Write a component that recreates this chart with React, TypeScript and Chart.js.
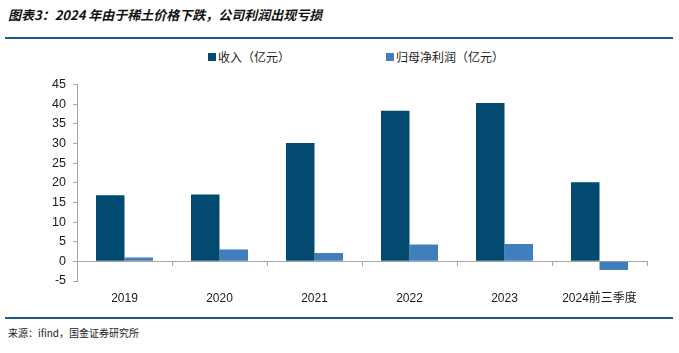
import React, { useEffect, useRef } from "react";
import { Chart, registerables } from "chart.js";

Chart.register(...registerables);

const categories = ["2019", "2020", "2021", "2022", "2023", "2024前三季度"];
const revenue = [16.8, 17.0, 30.1, 38.3, 40.3, 20.1];
const netProfit = [1.0, 3.0, 2.1, 4.3, 4.4, -2.2];
const seriesNames = ["收入（亿元）", "归母净利润（亿元）"];
const colors = ["#024A6F", "#417EBD"];
const yMin = -5;
const yMax = 45;
const yStep = 5;

const FONT = "'Liberation Sans', Arial, 'Noto Sans CJK SC', sans-serif";
const CJK = "'Noto Sans CJK SC', 'Liberation Sans', sans-serif";

export default function App() {
  const ref = useRef<HTMLCanvasElement | null>(null);
  useEffect(() => {
    if (!ref.current) return;
    const chart = new Chart(ref.current, {
      type: "bar",
      data: {
        labels: categories,
        datasets: [
          {
            label: seriesNames[0],
            data: revenue,
            backgroundColor: colors[0],
            borderWidth: 0,
            categoryPercentage: 0.6,
            barPercentage: 1,
          },
          {
            label: seriesNames[1],
            data: netProfit,
            backgroundColor: colors[1],
            borderWidth: 0,
            categoryPercentage: 0.6,
            barPercentage: 1,
          },
        ],
      },
      options: {
        responsive: false,
        animation: false,
        devicePixelRatio: 1,
        layout: { padding: { top: 2, right: 32, left: 0, bottom: 34 } },
        plugins: {
          legend: { display: false },
          tooltip: { enabled: false },
          title: { display: false },
        },
        scales: {
          x: {
            position: { y: 0 } as any,
            grid: {
              display: true,
              drawOnChartArea: false,
              drawTicks: true,
              tickLength: 4,
              color: "#a6a6a6",
              offset: true,
            },
            border: { display: true, color: "#a6a6a6", width: 1 },
            ticks: {
              padding: 26,
              color: "#1a1a1a",
              font: { family: FONT, size: 12 },
              maxRotation: 0,
              autoSkip: false,
            },
            afterFit: (s: any) => {
              s.height = 34;
            },
          },
          y: {
            min: yMin,
            max: yMax,
            grid: {
              display: true,
              drawOnChartArea: false,
              drawTicks: true,
              tickLength: 4,
              color: "#a6a6a6",
            },
            border: { display: true, color: "#a6a6a6", width: 1 },
            ticks: {
              stepSize: yStep,
              padding: 7,
              color: "#1a1a1a",
              font: { family: FONT, size: 12.5 },
            },
            afterFit: (s: any) => {
              s.width = 77;
            },
          },
        },
      },
    });
    return () => chart.destroy();
  }, []);

  return (
    <div
      style={{
        position: "fixed",
        left: 0,
        top: 0,
        width: 679,
        height: 353,
        background: "#fff",
        overflow: "hidden",
      }}
    >
      <div
        style={{
          position: "absolute",
          left: 8,
          top: 5,
          fontFamily: CJK,
          fontSize: 13,
          fontWeight: "bold",
          fontStyle: "italic",
          color: "#111",
          lineHeight: "20px",
          whiteSpace: "nowrap",
        }}
      >
        图表3：2024 年由于稀土价格下跌，公司利润出现亏损
      </div>
      <div
        style={{
          position: "absolute",
          left: 5,
          top: 37,
          width: 668,
          height: 2,
          background: "#1D5A87",
        }}
      />
      <div
        style={{
          position: "absolute",
          left: 208,
          top: 53,
          width: 8,
          height: 8,
          background: colors[0],
        }}
      />
      <div
        style={{
          position: "absolute",
          left: 218,
          top: 48,
          fontFamily: CJK,
          fontSize: 12,
          lineHeight: "18px",
          color: "#222",
          whiteSpace: "nowrap",
        }}
      >
        {seriesNames[0]}
      </div>
      <div
        style={{
          position: "absolute",
          left: 386,
          top: 53,
          width: 8,
          height: 8,
          background: colors[1],
        }}
      />
      <div
        style={{
          position: "absolute",
          left: 396,
          top: 48,
          fontFamily: CJK,
          fontSize: 12,
          lineHeight: "18px",
          color: "#222",
          whiteSpace: "nowrap",
        }}
      >
        {seriesNames[1]}
      </div>
      <canvas
        ref={ref}
        width={679}
        height={245}
        style={{ position: "absolute", left: 0, top: 70, width: 679, height: 245 }}
      />
      <div
        style={{
          position: "absolute",
          left: 5,
          top: 317,
          width: 668,
          height: 2,
          background: "#1D5A87",
        }}
      />
      <div
        style={{
          position: "absolute",
          left: 8,
          top: 325,
          fontFamily: CJK,
          fontSize: 10,
          lineHeight: "15px",
          color: "#222",
          whiteSpace: "nowrap",
        }}
      >
        来源：ifind，国金证券研究所
      </div>
    </div>
  );
}
